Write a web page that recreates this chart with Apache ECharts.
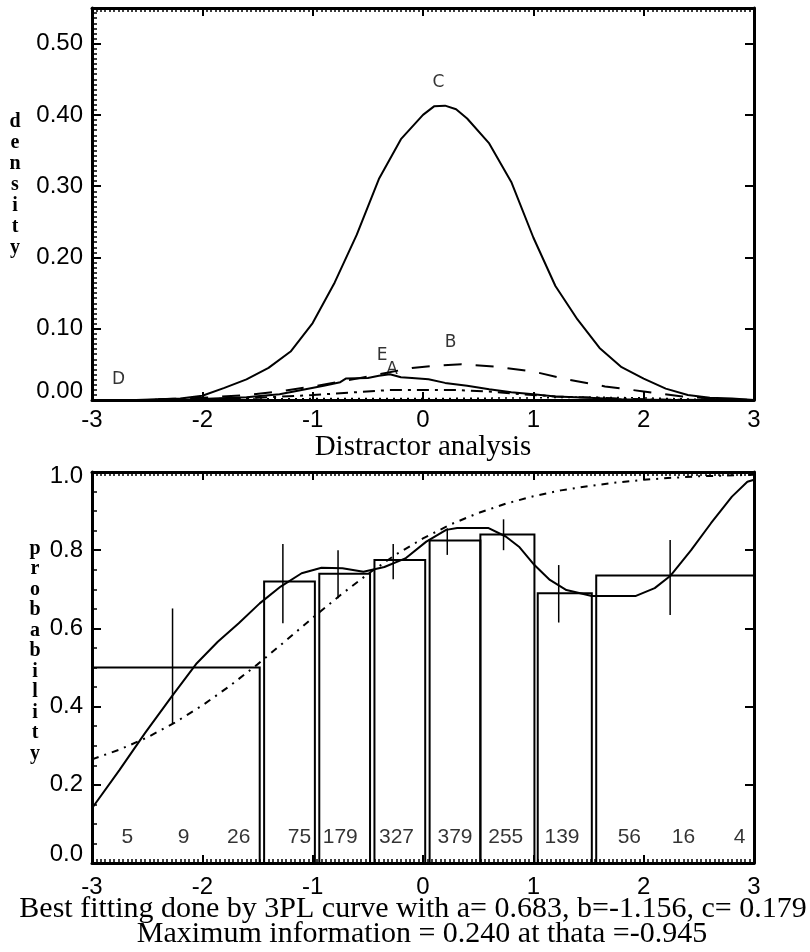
<!DOCTYPE html>
<html><head><meta charset="utf-8">
<script src="https://cdn.jsdelivr.net/npm/echarts/dist/echarts.min.js"></script>
<style>html,body{margin:0;padding:0;background:#fff}#c{width:810px;height:952px}</style>
</head><body><div id="c"></div>
<script>
// ---------- top panel: density of each option ----------
const cX = [-3,-2.8,-2.6,-2.4,-2.2,-2.0,-1.8,-1.6,-1.4,-1.2,-1.0,-0.8,-0.6,-0.4,-0.2,0,0.1,0.2,0.3,0.4,0.6,0.8,1.0,1.2,1.4,1.6,1.8,2.0,2.2,2.4,2.6,2.8,3.0];
const cY = [0,0,0,0.001,0.002,0.006,0.017,0.029,0.045,0.068,0.108,0.165,0.232,0.31,0.366,0.40,0.412,0.413,0.408,0.395,0.36,0.306,0.228,0.16,0.113,0.073,0.046,0.03,0.016,0.007,0.003,0.002,0];
const eX = [-2.2,-1.9,-1.6,-1.3,-1.1,-0.9,-0.75,-0.7,-0.5,-0.4,-0.3,-0.2,-0.1,0.05,0.2,0.4,0.6,0.8,1.0,1.2,1.5,1.8,2.2];
const eY = [0,0.002,0.004,0.008,0.014,0.02,0.025,0.03,0.031,0.034,0.036,0.032,0.031,0.029,0.024,0.02,0.015,0.011,0.008,0.005,0.003,0.001,0];
const bX = [-2.4,-2.0,-1.6,-1.3,-1.0,-0.7,-0.4,-0.1,0.1,0.35,0.65,1.0,1.3,1.65,2.0,2.35,2.7,3.0];
const bY = [0.001,0.003,0.007,0.012,0.019,0.027,0.036,0.045,0.048,0.05,0.047,0.04,0.029,0.019,0.012,0.005,0.001,0];
const aX = [-2.5,-2.0,-1.5,-1.0,-0.6,-0.3,0.0,0.3,0.6,0.9,1.2,1.6,2.0,2.5];
const aY = [0,0.001,0.003,0.007,0.011,0.014,0.014,0.014,0.012,0.008,0.005,0.003,0.001,0];
const dX = [-3,-2,-1,0,1,1.5,2,2.5,3];
const dY = [0,0.001,0.002,0.002,0.003,0.004,0.003,0.001,0];
const optNames = ['C','E','A','B','D'];
const optLabX = [0.14,-0.37,-0.28,0.25,-2.76];
const optLabY = [0.446,0.063,0.043,0.080,0.028];
const densityTicks = ['0.00','0.10','0.20','0.30','0.40','0.50'];

// ---------- bottom panel: probability ----------
const binLeft  = [-3,-1.44,-0.94,-0.44,0.06,0.52,1.04,1.57];
const binRight = [-1.48,-0.98,-0.48,0.02,0.52,1.01,1.53,3.0];
const binP     = [0.50,0.72,0.74,0.775,0.825,0.84,0.69,0.735];
const errX  = [-2.27,-1.27,-0.77,-0.27,0.22,0.73,1.23,2.24];
const errLo = [0.357,0.613,0.677,0.726,0.788,0.80,0.615,0.634];
const errHi = [0.651,0.816,0.80,0.816,0.856,0.879,0.762,0.826];
const empX = [-3,-2.75,-2.52,-2.28,-2.05,-1.86,-1.67,-1.48,-1.29,-1.10,-0.92,-0.73,-0.54,-0.35,-0.16,0.03,0.21,0.31,0.59,0.75,0.87,1.01,1.15,1.30,1.53,1.93,2.10,2.24,2.43,2.61,2.80,2.94,3.0];
const empY = [0.14,0.238,0.332,0.425,0.511,0.566,0.613,0.664,0.707,0.741,0.755,0.754,0.745,0.757,0.779,0.822,0.852,0.857,0.857,0.835,0.809,0.762,0.724,0.698,0.683,0.683,0.703,0.734,0.80,0.869,0.937,0.975,0.98];
const fitX = [-3,-2.75,-2.5,-2.25,-2,-1.75,-1.5,-1.25,-1,-0.75,-0.5,-0.25,0,0.25,0.5,0.75,1,1.25,1.5,1.75,2,2.25,2.5,2.75,3];
const fitY = [0.265,0.29,0.321,0.359,0.403,0.453,0.508,0.567,0.627,0.685,0.739,0.788,0.83,0.866,0.895,0.919,0.938,0.953,0.964,0.973,0.98,0.985,0.989,0.991,0.993];
const counts = ['5','9','26','75','179','327','379','255','139','56','16','4'];
const countX = [-2.68,-2.17,-1.67,-1.12,-0.75,-0.24,0.29,0.75,1.26,1.87,2.36,2.87];
const countY = 0.066;

const xTicks = ['-3','-2','-1','0','1','2','3'];
const noteLine1 = 'Best fitting done by 3PL curve with a= 0.683, b=-1.156, c= 0.179';
const noteLine2 = 'Maximum information = 0.240 at thata =-0.945';

// ---------- build ----------
const zip = (xs, ys) => xs.map((x, i) => [x, ys[i]]);
const SANS = "'Liberation Sans', Arial, sans-serif";
const SERIF = "'Liberation Serif', 'Times New Roman', serif";
const BLACK = '#000';

function xAxisCfg(grid, pos, labels) {
  return {
    type: 'value', gridIndex: grid, position: pos, min: -3, max: 3, interval: 1,
    axisLine: { show: true, onZero: false, lineStyle: { color: BLACK, width: 3 } },
    axisTick: { show: true, inside: true, length: 8, lineStyle: { color: BLACK, width: 2 } },
    splitLine: { show: false },
    axisLabel: labels ? {
      show: true, color: BLACK, fontSize: 24, fontFamily: SANS, margin: grid === 0 ? 8 : 12,
      formatter: v => { const i = xTicks.indexOf(String(Math.round(v))); return Math.abs(v - Math.round(v)) < 1e-6 && i >= 0 ? xTicks[i] : ''; }
    } : { show: false }
  };
}
// extra axes that only draw the fine (minor) tick marks
function xMinorCfg(grid, pos) {
  return {
    type: 'value', gridIndex: grid, position: pos, min: -3, max: 3, interval: 0.04,
    axisLine: { show: false, onZero: false }, axisLabel: { show: false }, splitLine: { show: false },
    axisTick: { show: true, inside: true, length: 4, lineStyle: { color: BLACK, width: 1.5 } }
  };
}
function yMinorCfg(grid, max, interval) {
  return {
    type: 'value', gridIndex: grid, position: 'left', min: 0, max: max, interval: interval,
    axisLine: { show: false, onZero: false }, axisLabel: { show: false }, splitLine: { show: false },
    axisTick: { show: true, inside: true, length: 5, lineStyle: { color: BLACK, width: 1.5 } }
  };
}
function yAxisCfg(grid, pos, labels, max, interval, fmt) {
  return {
    type: 'value', gridIndex: grid, position: pos, min: 0, max: max, interval: interval,
    axisLine: { show: true, onZero: false, lineStyle: { color: BLACK, width: 3 } },
    axisTick: { show: true, inside: true, length: 9, lineStyle: { color: BLACK, width: 2 } },
    splitLine: { show: false },
    axisLabel: labels ? {
      show: true, color: BLACK, fontSize: 24, fontFamily: SANS, margin: 9, formatter: fmt,
      rich: {
        lo: { color: BLACK, fontSize: 24, fontFamily: SANS, padding: [0, 0, 18, 0] },
        hi: { color: BLACK, fontSize: 24, fontFamily: SANS, padding: [8, 0, 0, 0] }
      }
    } : { show: false }
  };
}
const fmtTop = v => {
  const k = Math.round(v * 10);
  if (Math.abs(v * 10 - k) > 1e-6 || k < 0 || k >= densityTicks.length) return '';
  return k === 0 ? '{lo|' + densityTicks[0] + '}' : densityTicks[k];
};
const fmtBot = v => {
  const k = Math.round(v * 5);
  if (Math.abs(v * 5 - k) > 1e-6) return '';
  const s = (k * 0.2).toFixed(1);
  if (k === 0) return '{lo|' + s + '}';
  if (k === 5) return '{hi|' + s + '}';
  return s;
};

function lineSeries(xs, ys, xi, yi, type, width) {
  return {
    type: 'line', xAxisIndex: xi, yAxisIndex: yi, data: zip(xs, ys), showSymbol: false, symbol: 'none',
    lineStyle: { color: BLACK, width: width || 2, type: type || 'solid' }, z: 3, silent: true
  };
}

const option = {
  animation: false,
  backgroundColor: '#fff',
  grid: [
    { left: 92, top: 8, width: 662, height: 392 },
    { left: 92, top: 472, width: 662, height: 391 }
  ],
  xAxis: [
    xAxisCfg(0, 'bottom', true),
    xAxisCfg(0, 'top', false),
    xAxisCfg(1, 'bottom', true),
    xAxisCfg(1, 'top', false),
    xMinorCfg(0, 'top'),
    xMinorCfg(1, 'bottom'),
    xMinorCfg(1, 'top')
  ],
  yAxis: [
    yAxisCfg(0, 'left', true, 0.55, 0.1, fmtTop),
    yAxisCfg(0, 'right', false, 0.55, 0.1),
    yAxisCfg(1, 'left', true, 1.0, 0.2, fmtBot),
    yAxisCfg(1, 'right', false, 1.0, 0.2),
    yMinorCfg(0, 0.55, 0.1 / 14),
    yMinorCfg(1, 1.0, 0.05)
  ],
  series: [
    lineSeries(cX, cY, 0, 0, 'solid', 2),
    lineSeries(eX, eY, 0, 0, 'solid', 2),
    lineSeries(bX, bY, 0, 0, [18, 14], 2),
    lineSeries(aX, aY, 0, 0, [12, 6, 3, 6], 2),
    lineSeries(dX, dY, 0, 0, [2, 5], 1.5),
    {
      type: 'scatter', xAxisIndex: 0, yAxisIndex: 0, symbolSize: 0, silent: true,
      data: optNames.map((n, i) => ({ name: n, value: [optLabX[i], optLabY[i]] })),
      label: { show: true, position: 'inside', formatter: p => p.name, color: BLACK, fontSize: 17, fontFamily: "'DejaVu Sans', sans-serif" }
    },
    {
      type: 'custom', xAxisIndex: 2, yAxisIndex: 2, silent: true,
      data: binLeft.map((l, i) => [l, binRight[i], binP[i]]),
      encode: { x: [0, 1], y: 2 },
      renderItem: (params, api) => {
        const p0 = api.coord([api.value(0), api.value(2)]);
        const p1 = api.coord([api.value(1), 0]);
        return { type: 'polyline', shape: { points: [[p0[0], p1[1]], [p0[0], p0[1]], [p1[0], p0[1]], [p1[0], p1[1]]] },
                 style: { stroke: BLACK, lineWidth: 2, fill: null } };
      }
    },
    {
      type: 'custom', xAxisIndex: 2, yAxisIndex: 2, silent: true,
      data: errX.map((x, i) => [x, errLo[i], errHi[i]]),
      encode: { x: 0, y: [1, 2] },
      renderItem: (params, api) => {
        const a = api.coord([api.value(0), api.value(1)]);
        const b = api.coord([api.value(0), api.value(2)]);
        return { type: 'line', shape: { x1: a[0], y1: a[1], x2: b[0], y2: b[1] }, style: { stroke: BLACK, lineWidth: 1.5 } };
      }
    },
    lineSeries(empX, empY, 2, 2, 'solid', 2),
    lineSeries(fitX, fitY, 2, 2, [7, 6, 2, 6], 2),
    {
      type: 'scatter', xAxisIndex: 2, yAxisIndex: 2, symbolSize: 0, silent: true,
      data: counts.map((c, i) => ({ name: c, value: [countX[i], countY] })),
      label: { show: true, position: 'inside', formatter: p => p.name, color: BLACK, fontSize: 21, fontFamily: SANS }
    }
  ],
  graphic: [
    { type: 'text', style: { text: 'Distractor analysis', x: 423, y: 447, align: 'center', verticalAlign: 'middle', font: "29px " + SERIF, fill: BLACK } },
    { type: 'text', style: { text: 'density'.split('').join('\n'), x: 15, y: 185, align: 'center', verticalAlign: 'middle', font: "bold 20px " + SERIF, lineHeight: 21, fill: BLACK } },
    { type: 'text', style: { text: 'probability'.split('').join('\n'), x: 35, y: 651, align: 'center', verticalAlign: 'middle', font: "bold 20px " + SERIF, lineHeight: 20.5, fill: BLACK } },
    { type: 'text', style: { text: noteLine1, x: 413, y: 909, align: 'center', verticalAlign: 'middle', font: "30px " + SERIF, fill: BLACK } },
    { type: 'text', style: { text: noteLine2, x: 422, y: 934, align: 'center', verticalAlign: 'middle', font: "30px " + SERIF, fill: BLACK } }
  ]
};
const chart = echarts.init(document.getElementById('c'), null, { renderer: 'canvas' });
chart.setOption(option);
</script></body></html>
